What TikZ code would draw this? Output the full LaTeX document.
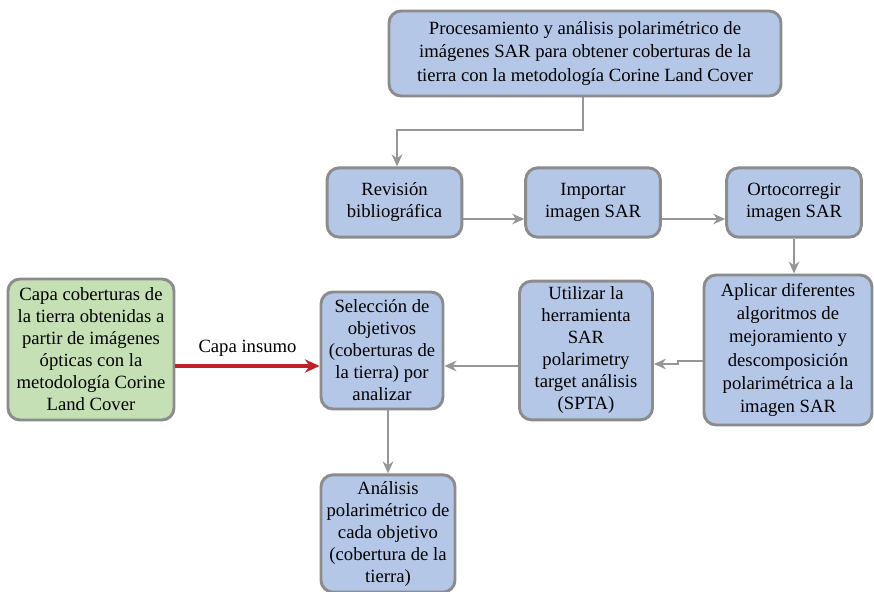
\documentclass[tikz,border=0pt]{standalone}
\usepackage{fontspec}
\IfFontExistsTF{LiberationSerif-Regular.ttf}
  {\setmainfont{LiberationSerif-Regular.ttf}}
  {\setmainfont{Liberation Serif}}
\usetikzlibrary{arrows.meta,positioning}
\definecolor{boxblue}{RGB}{180,199,231}
\definecolor{boxgreen}{RGB}{197,224,180}
\definecolor{boxedge}{RGB}{140,140,140}
\definecolor{linegray}{RGB}{150,150,150}
\definecolor{arrred}{RGB}{192,32,42}
\tikzset{
  box/.style={draw=boxedge, line width=2.2pt, fill=boxblue, rounded corners=9pt,
    align=center, inner sep=2pt, font=\rmfamily\fontsize{14}{16.5}\selectfont},
  loose/.style={font=\rmfamily\fontsize{14}{17.4}\selectfont},
  greenbox/.style={box, fill=boxgreen},
  conn/.style={draw=linegray, line width=1.2pt, -{Stealth[length=9pt,width=8pt]}},
  redconn/.style={draw=arrred, line width=2.6pt, -{Stealth[length=11pt,width=10pt]}},
  lbl/.style={font=\rmfamily\fontsize{14}{16.5}\selectfont, inner sep=1pt}
}
\begin{document}
\begin{tikzpicture}[x=0.75pt,y=-0.75pt]
\useasboundingbox (0,0) rectangle (874,592);
\node[box, loose, minimum width=294pt, minimum height=63.75pt] (top) at (585,53.5)
  {Procesamiento y análisis polarimétrico de\\imágenes SAR para obtener coberturas de la\\tierra con la metodología Corine Land Cover};
\node[box, minimum width=101pt, minimum height=52pt] (rev) at (394.5,202.5)
  {Revisión\\bibliográfica};
\node[box, minimum width=101pt, minimum height=52pt] (imp) at (593,202.5)
  {Importar\\imagen SAR};
\node[box, minimum width=101pt, minimum height=52pt] (orto) at (794,202.5)
  {Ortocorregir\\imagen SAR};
\node[box, loose, minimum width=126pt, minimum height=112.5pt] (apl) at (788,350)
  {Aplicar diferentes\\algoritmos de\\mejoramiento y\\descomposición\\polarimétrica a la\\imagen SAR};
\node[box, minimum width=99.75pt, minimum height=104pt] (uti) at (586,350.5)
  {Utilizar la\\herramienta\\SAR\\polarimetry\\target análisis\\(SPTA)};
\node[box, minimum width=91.5pt, minimum height=87.75pt] (sel) at (382,350.5)
  {Selección de\\objetivos\\(coberturas de\\la tierra) por\\analizar};
\node[greenbox, minimum width=124.5pt, minimum height=105.75pt] (capa) at (91,349.5)
  {Capa coberturas de\\la tierra obtenidas a\\partir de imágenes\\ópticas con la\\metodología Corine\\Land Cover};
\node[box, minimum width=100.5pt, minimum height=88pt] (ana) at (388,533.5)
  {Análisis\\polarimétrico de\\cada objetivo\\(cobertura de la\\tierra)};
\coordinate (c1) at (583,130);
\coordinate (c2) at (397,130);
\draw[conn] (top.south -| c1) -- (c1) -- (c2) -- (rev.north -| c2);
\draw[conn] (rev.east |- 0,219) -- (imp.west |- 0,219);
\draw[conn] (imp.east |- 0,219) -- (orto.west |- 0,219);
\draw[conn] (orto.south -| 794,0) -- (apl.north -| 794,0);
\draw[conn] (apl.west |- 0,361) -- (678,361) -- (678,364) -- (uti.east |- 0,364);
\draw[conn] (uti.west |- 0,366) -- (sel.east |- 0,366);
\draw[redconn] (capa.east |- 0,366) -- node[lbl, above=5pt] (ci) {Capa insumo} (sel.west |- 0,366);
\draw[conn] (sel.south -| 388,0) -- (ana.north -| 388,0);
\end{tikzpicture}
\end{document}
